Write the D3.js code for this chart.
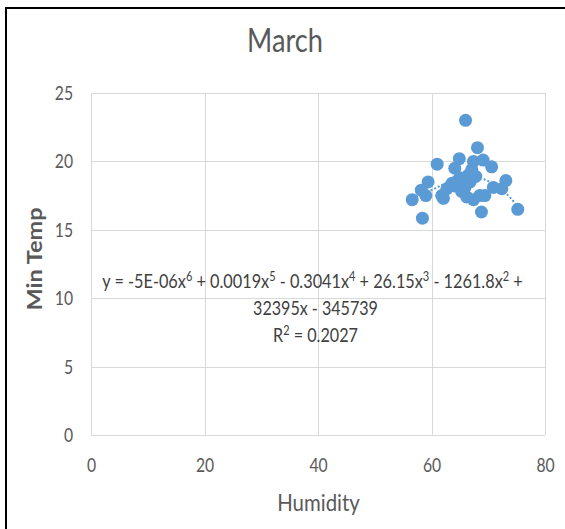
<!DOCTYPE html>
<html>
<head>
<meta charset="utf-8">
<script src="https://cdn.jsdelivr.net/npm/d3@7"></script>
<style>
  html, body { margin: 0; padding: 0; background: #fff; }
  svg { display: block; }
  text { font-family: Lato, "Open Sans", sans-serif; }
</style>
</head>
<body>
<svg id="chart" width="565" height="529"></svg>
<script>
// ---- data ----
const humidity = [56.6, 58.4, 58.2, 59.0, 59.4, 61.0, 62.1, 61.8, 62.7, 64.1,
                  64.9, 64.1, 65.0, 66.0, 66.2, 65.9, 66.8, 67.4, 67.1, 67.4,
                  68.1, 68.5, 69.1, 69.4, 68.8, 70.6, 70.9, 72.4, 73.1, 75.2,
                  63.6, 65.3, 66.5, 67.8, 64.6];
const minTemp  = [17.2, 15.85, 17.9, 17.5, 18.5, 19.8, 17.3, 17.5, 18.0, 19.5,
                  20.2, 18.2, 18.8, 23.0, 17.4, 18.1, 18.5, 20.0, 19.4, 17.2,
                  21.0, 17.5, 20.1, 17.5, 16.3, 19.6, 18.1, 18.0, 18.6, 16.5,
                  18.4, 17.8, 19.0, 18.9, 18.6];
// polynomial trendline
const trendX = [56.6, 58, 60, 62, 64, 66, 68, 70, 72, 73, 74, 75.2];
const trendY = [17.3, 17.55, 17.9, 18.3, 18.6, 18.85, 18.85, 18.55, 18.0, 17.7, 17.3, 16.6];

const xTicks = [0, 20, 40, 60, 80];
const yTicks = [0, 5, 10, 15, 20, 25];
const titleText = "March";
const xTitle = "Humidity";
const yTitle = "Min Temp";

// ---- layout ----
const svg = d3.select("#chart");
const W = 565, H = 529;
const plot = { left: 91, right: 545, top: 93, bottom: 435 };
const grey = "#595959";
const blue = "#5b9bd5";
const SX = 0.85; // horizontal squeeze seen in the reference text

// outer chart border (black, only top/left visible in the crop)
svg.append("rect")
  .attr("x", 6).attr("y", 8)
  .attr("width", W + 20).attr("height", H + 20)
  .attr("fill", "none").attr("stroke", "#000").attr("stroke-width", 2);

const x = d3.scaleLinear().domain([0, 80]).range([plot.left, plot.right]);
const y = d3.scaleLinear().domain([0, 25]).range([plot.bottom, plot.top]);

// gridlines
const g = svg.append("g");
g.selectAll("line.h").data(yTicks).join("line")
  .attr("x1", plot.left).attr("x2", plot.right)
  .attr("y1", d => Math.round(y(d)) + 0.5).attr("y2", d => Math.round(y(d)) + 0.5)
  .attr("stroke", "#d9d9d9").attr("stroke-width", 1);
g.selectAll("line.v").data(xTicks).join("line")
  .attr("y1", plot.top).attr("y2", plot.bottom)
  .attr("x1", d => Math.round(x(d)) + 0.5).attr("x2", d => Math.round(x(d)) + 0.5)
  .attr("stroke", "#d9d9d9").attr("stroke-width", 1);

// axes (labels only)
const yAxis = d3.axisLeft(y).tickValues(yTicks).tickSize(0).tickPadding(0);
svg.append("g").attr("transform", `translate(${plot.left - 18},0)`).call(yAxis)
  .call(s => s.select(".domain").remove())
  .selectAll("text").attr("fill", grey).style("font-size", "18.5px")
  .attr("dy", "0.35em").attr("transform", `scale(${SX},1)`);

const xAxis = d3.axisBottom(x).tickValues(xTicks).tickSize(0).tickPadding(0);
svg.append("g").attr("transform", `translate(0,${plot.bottom + 37})`).call(xAxis)
  .call(s => s.select(".domain").remove())
  .selectAll("text").attr("fill", grey).style("font-size", "18.5px")
  .attr("dy", "0").attr("transform", `scale(${SX},1)`);

// titles
function label(px, py, size, str, extra) {
  const t = svg.append("text")
    .attr("transform", `translate(${px},${py}) scale(${SX},1)` + (extra || ""))
    .attr("text-anchor", "middle").attr("fill", grey)
    .style("font-size", size + "px").text(str);
  return t;
}
label(285, 52, 32, titleText);
label(318.5, 511, 24, xTitle);
label(42, 259, 23.5, yTitle, " rotate(-90)").style("font-weight", "bold");

// points
svg.append("g").selectAll("circle").data(humidity.map((h, i) => [h, minTemp[i]])).join("circle")
  .attr("cx", d => x(d[0])).attr("cy", d => y(d[1])).attr("r", 6.5)
  .attr("fill", blue);

// trendline
const line = d3.line().x(d => x(d[0])).y(d => y(d[1])).curve(d3.curveMonotoneX);
svg.append("path").datum(trendX.map((t, i) => [t, trendY[i]]))
  .attr("d", line).attr("fill", "none").attr("stroke", blue)
  .attr("stroke-width", 2).attr("stroke-dasharray", "2,2");

// equation label
const eqSize = 18.5, supSize = 12.5, supUp = 7;
function eqLine(cx, by, parts, targetW) {
  const t = svg.append("text").attr("text-anchor", "middle")
    .attr("fill", "#404040").style("font-size", eqSize + "px");
  let cur = 0;
  parts.forEach(p => {
    const isSup = p[1] === true;
    const target = isSup ? -supUp : 0;
    const dy = target - cur;
    cur = target;
    t.append("tspan").attr("dy", dy).style("font-size", (isSup ? supSize : eqSize) + "px")
      .text(p[0]);
  });
  const w = t.node().getComputedTextLength();
  const s = targetW ? targetW / w : SX;
  t.attr("transform", `translate(${cx},${by}) scale(${s},1)`);
  return t;
}
eqLine(312.5, 288, [["y = -5E-06x"], ["6", true], [" + 0.0019x"], ["5", true],
  [" - 0.3041x"], ["4", true], [" + 26.15x"], ["3", true], [" - 1261.8x"], ["2", true], [" +"]], 421);
eqLine(315.5, 315, [["32395x - 345739"]], 125);
eqLine(315.5, 342, [["R"], ["2", true], [" = 0.2027"]], 85);
</script>
</body>
</html>
